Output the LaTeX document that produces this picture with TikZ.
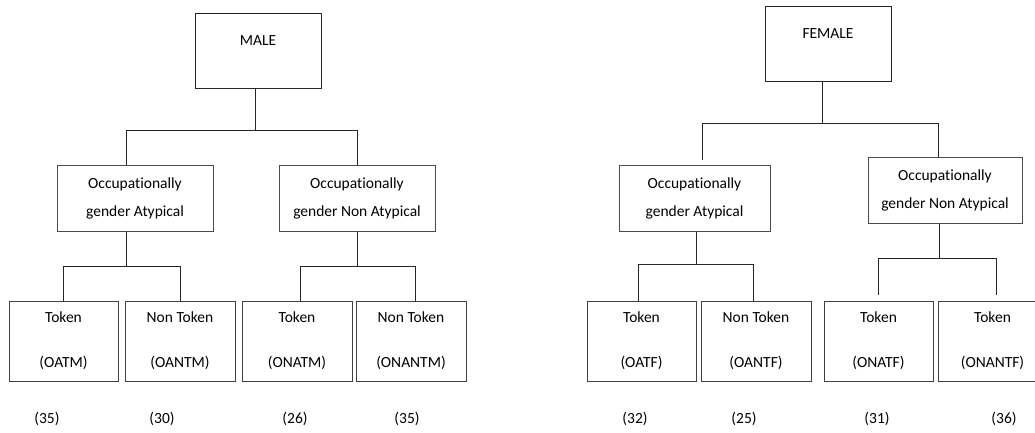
\documentclass[tikz,border=0pt]{standalone}
\usepackage{fontspec}
\setmainfont[Ligatures=NoCommon]{Carlito}
\usetikzlibrary{positioning}

\begin{document}
\begin{tikzpicture}[x=1pt, y=-1pt,
              every node/.style = {font=\fontsize{15.5}{19}\selectfont},
              topbox/.style = {draw=black!85, line width=1pt, minimum width=126pt,
                inner ysep=0pt, text height=32pt, text depth=43pt, anchor=north},
              midbox/.style = {draw=black!70, line width=1pt, minimum width=156pt,
                minimum height=66pt, inner sep=0pt, align=center,
                font=\fontsize{15.5}{28}\selectfont},
              leafbox/.style = {draw=black!75, line width=1pt, minimum width=110pt,
                minimum height=80pt, inner sep=0pt, align=center,
                font=\fontsize{15.5}{45}\selectfont},
              link/.style = {draw=black!85, line width=0.9pt}]
  \useasboundingbox (0,0) rectangle (1035,432);

  % male tree
  \node[topbox] (male) at (258,13) {MALE};
  \node[midbox] (mA) at (135,198) {Occupationally\\gender Atypical};
  \node[midbox] (mN) at (357,198) {Occupationally\\gender Non Atypical};
  \node[leafbox, minimum width=109pt] (mAT) at (63.5,341) {Token\\(OATM)};
  \node[leafbox] (mAN) at (180,341) {Non Token\\(OANTM)};
  \node[leafbox] (mNT) at (297,341) {Token\\(ONATM)};
  \node[leafbox] (mNN) at (411,341) {Non Token\\(ONANTM)};

  % female tree
  \node[topbox] (female) at (828,6) {FEMALE};
  \node[midbox, minimum width=151pt] (fA) at (694.5,198) {Occupationally\\gender Atypical};
  \node[midbox, minimum width=154pt] (fN) at (945,190) {Occupationally\\gender Non Atypical};
  \node[leafbox, minimum width=109pt] (fAT) at (641.5,341) {Token\\(OATF)};
  \node[leafbox] (fAN) at (756,341) {Non Token\\(OANTF)};
  \node[leafbox, minimum width=109pt] (fNT) at (878.5,341) {Token\\(ONATF)};
  \node[leafbox, minimum width=109pt] (fNN) at (992.5,341) {Token\\(ONANTF)};

  % counts
  \node (c1) at (47,419) {(35)};
  \node (c2) at (162,419) {(30)};
  \node (c3) at (295,419) {(26)};
  \node (c4) at (407,419) {(35)};
  \node (c5) at (635,419) {(32)};
  \node (c6) at (744,419) {(25)};
  \node (c7) at (877,419) {(31)};
  \node (c8) at (1004,419) {(36)};

  % bars
  \coordinate (mbar) at (0,130);
  \coordinate (mAbar) at (0,266);
  \coordinate (mNbar) at (0,266);
  \coordinate (fbar) at (0,123);
  \coordinate (fAbar) at (0,264);
  \coordinate (fNbar) at (0,258);

  % connectors
  \draw[link] ([xshift=-3pt]male.south) -- ([xshift=-3pt]male.south |- mbar);
  \draw[link] ([xshift=-9pt]mA.north) |- (mN.north |- mbar) -- (mN.north);
  \draw[link] ([xshift=-9pt]mA.south) -- ([xshift=-9pt]mA.south |- mAbar);
  \draw[link] (mAT.north) |- (mAN.north |- mAbar) -- (mAN.north);
  \draw[link] (mN.south) -- (mN.south |- mNbar);
  \draw[link] ([xshift=3pt]mNT.north) |- ([xshift=4pt]mNN.north |- mNbar) -- ([xshift=4pt]mNN.north);

  \draw[link] ([xshift=-6pt]female.south) -- ([xshift=-6pt]female.south |- fbar);
  \draw[link, shorten <=5pt] ([xshift=7.5pt]fA.north) |- ([xshift=-7pt]fN.north |- fbar) -- ([xshift=-7pt]fN.north);
  \draw[link] ([xshift=1.5pt]fA.south) -- ([xshift=1.5pt]fA.south |- fAbar);
  \draw[link] ([xshift=-3.5pt]fAT.north) |- ([xshift=-3pt]fAN.north |- fAbar) -- ([xshift=-3pt]fAN.north);
  \draw[link] ([xshift=-6pt]fN.south) -- ([xshift=-6pt]fN.south |- fNbar);
  \draw[link, shorten <=6pt, shorten >=6pt] (fNT.north) |- ([xshift=3.5pt]fNN.north |- fNbar) -- ([xshift=3.5pt]fNN.north);
\end{tikzpicture}
\end{document}
